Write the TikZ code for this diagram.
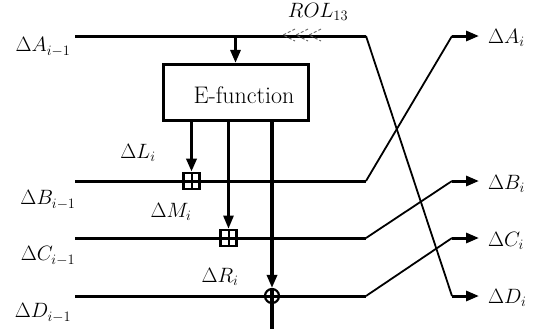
\documentclass[tikz,border=0pt]{standalone}
\usetikzlibrary{arrows.meta}
\begin{document}
\begin{tikzpicture}[x=1pt,y=-1pt,
  mainln/.style={line width=3pt},
  diagln/.style={line width=1.8pt},
  tipped/.style={-{Triangle[length=13pt,width=10pt]}},
  efbox/.style={draw,line width=3.2pt,minimum width=145pt,minimum height=56pt,inner sep=0pt},
  sqplus/.style={draw,line width=2.6pt,minimum size=16pt,inner sep=0pt,
     path picture={\draw[line width=2pt] (path picture bounding box.north) -- (path picture bounding box.south);}},
  cplus/.style={draw,circle,line width=2.2pt,minimum size=14pt,inner sep=0pt},
  lbl/.style={font=\fontsize{22}{26}\selectfont,inner sep=0pt},
  chev/.style={gray!80!black,line width=0.9pt,densely dashed}]
\useasboundingbox (0,0) rectangle (535,330);
% coordinates of the four lanes
\coordinate (a0) at (75,36);  \coordinate (a1) at (366,36);
\coordinate (b0) at (75,181); \coordinate (b1) at (366,181);
\coordinate (c0) at (75,238); \coordinate (c1) at (366,238);
\coordinate (d0) at (75,296); \coordinate (d1) at (366,296);
\coordinate (ao) at (452,36);  \coordinate (aoe) at (479,36);
\coordinate (bo) at (452,181); \coordinate (boe) at (479,181);
\coordinate (co) at (452,238); \coordinate (coe) at (479,238);
\coordinate (do) at (452,296); \coordinate (doe) at (479,296);
\coordinate (atap) at (235.5,36);
\coordinate (rend) at (272,329);
% box
\node[efbox] (ef) at (236,92.5) {};
\node[lbl,font=\fontsize{24}{28}\selectfont] (eftxt) at (244,95) {E-function};
% lanes
\draw[mainln] (a0) -- (a1);
\draw[mainln] (b0) -- (b1);
\draw[mainln] (c0) -- (c1);
\draw[mainln] (d0) -- (d1);
% operators
\node[sqplus] (sqb) at (191.5,181) {};
\node[sqplus] (sqc) at (228.5,238) {};
\node[cplus] (opd) at (272,296) {};
% vertical feeds
\draw[mainln,tipped] (atap) -- (atap |- ef.north);
\draw[line width=3.4pt,tipped] (sqb |- ef.south) -- (sqb.north);
\draw[line width=2.4pt,tipped] (sqc |- ef.south) -- (sqc.north);
\draw[line width=3.2pt,tipped] (opd |- ef.south) -- (opd.north);
\draw[line width=3.2pt] (opd.north) -- (rend);
% permutation
\draw[diagln] (a1) -- (do);
\draw[diagln] (b1) -- (ao);
\draw[diagln] (c1) -- (bo);
\draw[diagln] (d1) -- (co);
% outputs
\draw[mainln,tipped] (ao) -- (aoe);
\draw[mainln,tipped] (bo) -- (boe);
\draw[mainln,tipped] (co) -- (coe);
\draw[mainln,tipped] (do) -- (doe);
% rotation chevrons
\foreach \x in {283,296,309}{
  \draw[chev] (\x+12,29) -- (\x,35) -- (\x+12,41);
}
% labels
\node[lbl] (rol) at (318,12) {$ROL_{13}$};
\node[lbl] (la) at (43,47) {$\Delta A_{i-1}$};
\node[lbl] (lb) at (48,200) {$\Delta B_{i-1}$};
\node[lbl] (lc) at (48,256) {$\Delta C_{i-1}$};
\node[lbl] (ld) at (43,313) {$\Delta D_{i-1}$};
\node[lbl] (ll) at (138,153) {$\Delta L_i$};
\node[lbl] (lm) at (171,212) {$\Delta M_i$};
\node[lbl] (lr) at (220,277) {$\Delta R_i$};
\node[lbl,anchor=west] (oa) at (488,38) {$\Delta A_i$};
\node[lbl,anchor=west] (ob) at (488,184) {$\Delta B_i$};
\node[lbl,anchor=west] (oc) at (488,241) {$\Delta C_i$};
\node[lbl,anchor=west] (od) at (488,298) {$\Delta D_i$};
\end{tikzpicture}
\end{document}
